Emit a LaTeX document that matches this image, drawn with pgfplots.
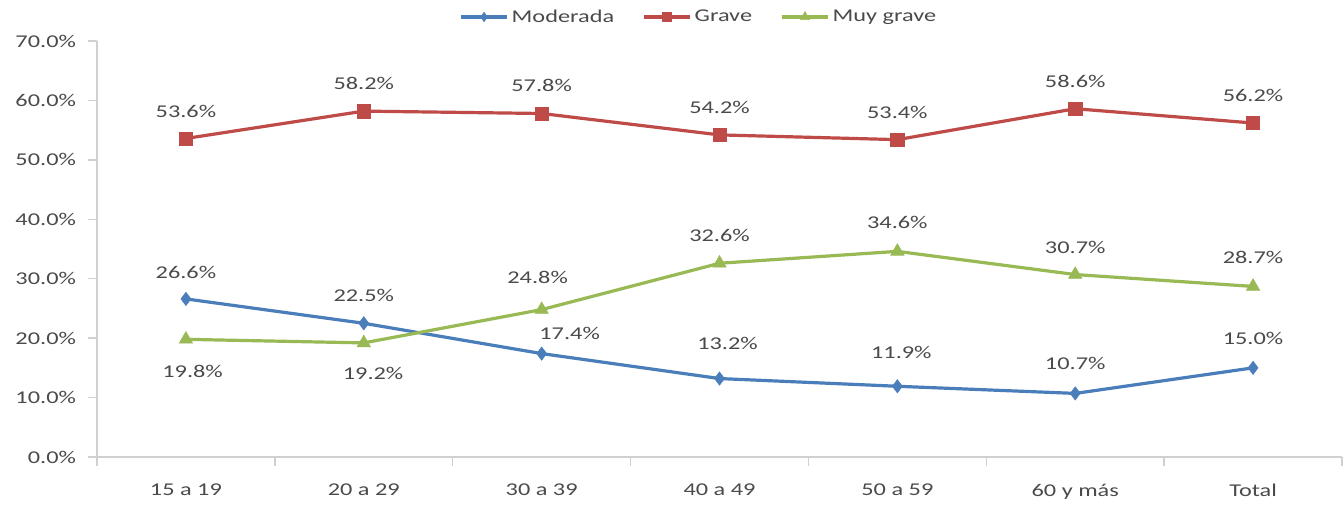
\documentclass[border=0pt]{standalone}
\usepackage{pgfplots}
\pgfplotsset{compat=1.18}
\usepackage{pgfplotstable}
\usepackage{fontspec}
\setmainfont{Carlito}[FakeStretch=1.35]
\definecolor{cBlue}{HTML}{4A7EBB}
\definecolor{cRed}{HTML}{BE4B48}
\definecolor{cGreen}{HTML}{98B954}
\definecolor{axisgray}{HTML}{D0D0D0}
\definecolor{textgray}{HTML}{4A4A4A}

\pgfplotstableread{
x y dx dy
0 26.6 0 20
1 22.5 0 21
2 17.4 21 15
3 13.2 6 26
4 11.9 3 25.5
5 10.7 0 22.5
6 15.0 0 22
}\moderada
\pgfplotstableread{
x y dx dy
0 53.6 0 20.5
1 58.2 0 20.5
2 57.8 0 21
3 54.2 0 20.5
4 53.4 0 20.5
5 58.6 0 20.5
6 56.2 0 20.5
}\grave
\pgfplotstableread{
x y dx dy
0 19.8 5 -24
1 19.2 7 -23
2 24.8 -3 24
3 32.6 0 21
4 34.6 0 22
5 30.7 0 20
6 28.7 0 22
}\muygrave

\begin{document}
\begin{tikzpicture}
\begin{axis}[
  scale only axis, width=933.75pt, height=312pt,
  xmin=-0.5, xmax=6.5, ymin=0, ymax=70,
  axis x line*=bottom, axis y line*=left,
  axis line style={axisgray, line width=1pt},
  xtick={0,...,6},
  xticklabels={15 a 19, 20 a 29, 30 a 39, 40 a 49, 50 a 59, 60 y más, Total},
  major x tick style={draw=none},
  minor xtick={-0.5,0.5,...,6.5},
  ytick={0,10,...,70},
  yticklabels={0.0\%,10.0\%,20.0\%,30.0\%,40.0\%,50.0\%,60.0\%,70.0\%},
  tick align=outside,
  major tick length=6.75pt, minor tick length=6.75pt,
  every tick/.style={axisgray, line width=1pt},
  minor tick style={axisgray, line width=1pt},
  ticklabel style={font=\fontsize{13.5}{15}\selectfont, text=textgray},
  xticklabel style={yshift=-10pt},
  yticklabel style={xshift=-5.5pt},
  legend columns=3,
  legend style={draw=none, fill=none, at={(0.4835,1.0577)}, anchor=center,
    font=\fontsize{13.5}{15}\selectfont, text=textgray,
    /tikz/every even column/.append style={column sep=19pt},
    inner sep=0pt},
  legend image code/.code={\draw[mark repeat=2,mark phase=2,mark options={scale=0.7,line width=0.4pt}]
     plot coordinates {(0pt,0pt) (17.5pt,0pt) (35pt,0pt)};},
  point meta=y,
  nodes near coords={\pgfmathprintnumber[fixed,fixed zerofill,precision=1,assume math mode=true]{\pgfplotspointmeta}\%},
  visualization depends on={\thisrow{dx} \as \labdx},
  visualization depends on={\thisrow{dy} \as \labdy},
  nodes near coords style={anchor=center, xshift=\labdx pt, yshift=\labdy pt,
    font=\fontsize{13.5}{15}\selectfont, text=textgray},
  clip=false,
]
\addplot[cBlue, line width=2.4pt, mark=diamond*, mark size=5pt,
  mark options={solid, line width=0.4pt}] table[x=x,y=y] {\moderada};
\addlegendentry{Moderada}
\addplot[cRed, line width=2.4pt, mark=square*, mark size=5pt,
  mark options={solid, line width=0.4pt}] table[x=x,y=y] {\grave};
\addlegendentry{Grave}
\addplot[cGreen, line width=2.4pt, mark=triangle*, mark size=5.8pt,
  mark options={solid, line width=0.4pt}] table[x=x,y=y] {\muygrave};
\addlegendentry{Muy grave}
\end{axis}
\pgfresetboundingbox
\path ([xshift=-72.75pt,yshift=-36pt]current axis.south west) rectangle ([xshift=1.5pt,yshift=30.75pt]current axis.north east);
\end{tikzpicture}
\end{document}
